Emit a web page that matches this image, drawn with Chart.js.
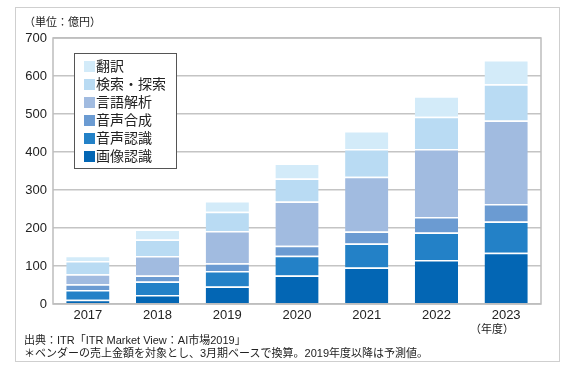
<!DOCTYPE html>
<html><head><meta charset="utf-8">
<script src="https://cdn.jsdelivr.net/npm/chart.js@4"></script>
<style>
html,body{margin:0;padding:0;background:#fff;}
#wrap{position:relative;width:567px;height:370px;font-family:"Liberation Sans","Noto Sans CJK JP",sans-serif;color:#222;}
#frame{position:absolute;left:15px;top:7px;width:545px;height:355px;border:1px solid #cfcfcf;box-sizing:border-box;}
canvas{position:absolute;left:0;top:0;}
.t{position:absolute;white-space:nowrap;font-size:11px;line-height:12px;}
</style></head><body>
<div id="wrap">
<div id="frame"></div>
<canvas id="c" width="567" height="370"></canvas>
<div class="t" style="left:24px;top:16px;">（単位：億円）</div>
<div class="t" style="left:470px;top:323px;">（年度）</div>
<div class="t" style="left:24px;top:334px;">出典：ITR「ITR Market View：AI市場2019」</div>
<div class="t" style="left:24px;top:347px;">＊ベンダーの売上金額を対象とし、3月期ベースで換算。2019年度以降は予測値。</div>
</div>
<script>
const categories = ["2017","2018","2019","2020","2021","2022","2023"];
const imageRecognition = [11, 24, 46, 75, 96, 116, 135];
const speechRecognition = [26, 35, 41, 52, 63, 72, 82];
const speechSynthesis = [15, 16, 20, 26, 32, 41, 46];
const languageAnalysis = [26, 51, 85, 117, 144, 179, 220];
const searchExplore = [35, 44, 51, 60, 73, 85, 95];
const translation = [14, 26, 28, 40, 47, 54, 64];
const yTicks = [0,100,200,300,400,500,600,700];

const seriesNames = ["画像認識","音声認識","音声合成","言語解析","検索・探索","翻訳"];
const seriesData = [imageRecognition, speechRecognition, speechSynthesis, languageAnalysis, searchExplore, translation];
const seriesColors = ["#0366b4","#2381c7","#6b9bd2","#a1bbe0","#b9dbf3","#d3ebf9"];

const legendPlugin = {
  id:'boxLegend',
  afterDraw(chart){
    const ctx = chart.ctx;
    const x0=74, y0=53, w=102, h=115;
    ctx.save();
    ctx.fillStyle='#fff';
    ctx.fillRect(x0,y0,w,h);
    ctx.strokeStyle='#555';
    ctx.lineWidth=1;
    ctx.strokeRect(x0+0.5,y0+0.5,w,h);
    ctx.font='14px "Noto Sans CJK JP"';
    ctx.textBaseline='middle';
    const n = chart.data.datasets.length;
    for(let i=0;i<n;i++){
      const ds = chart.data.datasets[n-1-i];
      const cy = 66 + i*18;
      ctx.fillStyle = ds.backgroundColor;
      ctx.fillRect(84, cy-5, 11, 11);
      ctx.fillStyle='#222';
      ctx.fillText(ds.label, 96, cy);
    }
    ctx.restore();
  }
};
const borderPlugin = {
  id:'areaBorder',
  afterDatasetsDraw(chart){
    const a = chart.chartArea, ctx = chart.ctx;
    ctx.save();
    ctx.strokeStyle='#bdbdbd';
    ctx.lineWidth=1.5;
    ctx.strokeRect(a.left, a.top, a.right-a.left, a.bottom-a.top);
    ctx.restore();
  }
};

new Chart(document.getElementById('c'), {
  type:'bar',
  data:{
    labels: categories,
    datasets: seriesNames.map((n,i)=>({
      label:n, data:seriesData[i], backgroundColor:seriesColors[i],
      borderColor:'rgba(255,255,255,0.75)', borderWidth:{top:1.5,bottom:0,left:0,right:0}, borderSkipped:false,
      barPercentage:0.62, categoryPercentage:1.0
    }))
  },
  options:{
    responsive:false, animation:false, devicePixelRatio:1,
    layout:{padding:{left:18,top:38,right:26,bottom:44}},
    plugins:{legend:{display:false}, tooltip:{enabled:false}},
    scales:{
      x:{stacked:true, grid:{display:false, drawTicks:false}, border:{display:false},
        ticks:{color:'#222', font:{family:'"Liberation Sans"', size:13}, padding:4},
        afterFit(s){s.height=22;}},
      y:{stacked:true, min:0, max:700,
        afterBuildTicks(s){s.ticks = yTicks.map(v=>({value:v}));},
        grid:{color:'#c4c4c4', lineWidth:1.5, drawTicks:false}, border:{display:false},
        ticks:{color:'#222', font:{family:'"Liberation Sans"', size:13}, padding:6},
        afterFit(s){s.width=35;}}
    }
  },
  plugins:[borderPlugin, legendPlugin]
});
</script>
</body></html>
